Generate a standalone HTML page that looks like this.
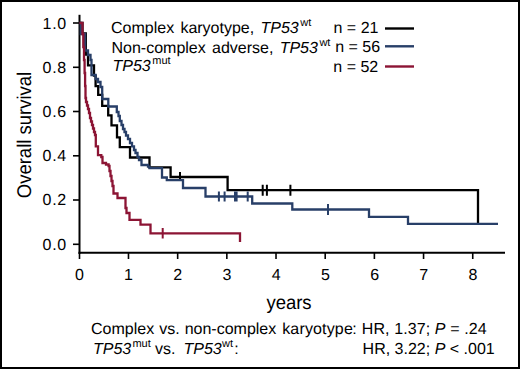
<!DOCTYPE html>
<html><head><meta charset="utf-8">
<style>
html,body{margin:0;padding:0;background:#fff;}
body{width:520px;height:369px;overflow:hidden;}
svg{display:block;}
text{font-family:"Liberation Sans",sans-serif;fill:#000;text-rendering:geometricPrecision;}
.it{font-style:italic;}
</style></head>
<body>
<svg width="520" height="369" viewBox="0 0 520 369">
<rect x="0" y="0" width="520" height="369" fill="#fff"/>
<rect x="1" y="1" width="518" height="367" fill="none" stroke="#000" stroke-width="2"/>

<!-- axes -->
<g stroke="#000" fill="none">
<line x1="79.5" y1="14.8" x2="79.5" y2="253.8" stroke-width="2"/>
<line x1="78.5" y1="252.8" x2="505" y2="252.8" stroke-width="2"/>
<g stroke-width="1.6">
<line x1="73" y1="23" x2="79.8" y2="23"/>
<line x1="73" y1="67.3" x2="79.8" y2="67.3"/>
<line x1="73" y1="111.5" x2="79.8" y2="111.5"/>
<line x1="73" y1="155.8" x2="79.8" y2="155.8"/>
<line x1="73" y1="200" x2="79.8" y2="200"/>
<line x1="73" y1="244.3" x2="79.8" y2="244.3"/>
<line x1="79.5" y1="252.8" x2="79.5" y2="259"/>
<line x1="128.48" y1="252.8" x2="128.48" y2="259"/>
<line x1="177.66" y1="252.8" x2="177.66" y2="259"/>
<line x1="226.84" y1="252.8" x2="226.84" y2="259"/>
<line x1="276.02" y1="252.8" x2="276.02" y2="259"/>
<line x1="325.2" y1="252.8" x2="325.2" y2="259"/>
<line x1="374.38" y1="252.8" x2="374.38" y2="259"/>
<line x1="423.56" y1="252.8" x2="423.56" y2="259"/>
<line x1="472.74" y1="252.8" x2="472.74" y2="259"/>
</g>
</g>

<!-- y tick labels -->
<g font-size="16" text-anchor="end">
<text x="66.2" y="28.6" textLength="23.6">1.0</text>
<text x="66.2" y="72.6" textLength="23.6">0.8</text>
<text x="66.2" y="116.8" textLength="23.6">0.6</text>
<text x="66.2" y="161.1" textLength="23.6">0.4</text>
<text x="66.2" y="205.3" textLength="23.6">0.2</text>
<text x="66.2" y="249.6" textLength="23.6">0.0</text>
</g>
<!-- x tick labels -->
<g font-size="16" text-anchor="middle">
<text x="79.5" y="280.4">0</text>
<text x="128.5" y="280.4">1</text>
<text x="177.8" y="280.4">2</text>
<text x="227" y="280.4">3</text>
<text x="276.2" y="280.4">4</text>
<text x="325.4" y="280.4">5</text>
<text x="374.6" y="280.4">6</text>
<text x="423.8" y="280.4">7</text>
<text x="473" y="280.4">8</text>
</g>

<!-- axis titles -->
<text transform="translate(289,309.3) scale(1,1.05)" font-size="18.5" text-anchor="middle">years</text>
<text transform="translate(30.7,135) rotate(-90) scale(1,1.07)" font-size="18.5" text-anchor="middle">Overall survival</text>

<!-- curves -->
<g fill="none" stroke-width="2.3">
<path stroke="#000" d="M79.5,23 H82.5 V33.5 H85.8 V54.5 H88 V65.3 H94 V75.7 H95.6 V86.2 H98.2 V94.8 H102.2 V105.8 H108.2 V115.4 H111.5 V125.3 H117 V137.4 H119.8 V147.2 H130 V157.5 H149.5 V167.4 H170.6 V177 H227.6 V190.1 H478 V223.5"/>
</g>
<g fill="none" stroke-width="2">
<path stroke="#000" d="M180,172 V180.5 M262.7,184.8 V195.8 M266.9,184.8 V195.8 M290.4,184.8 V195.8"/>
</g>
<g fill="none" stroke-width="2.3">
<path stroke="#283f68" d="M79.5,23 H80.8 V34 H85 V50.5 H88 V55 H90.5 V60 H91.5 V75 H95.6 V79 H98 V82 H100.5 V87 H102.2 V99 H108.3 V106.5 H116.8 V112 H118.5 V116 H119.8 V121 H121.5 V125 H123 V129 H124.5 V132 H126 V135.5 H128 V139 H130 V143 H132 V146.3 H134 V150 H135.5 V153 H137.5 V156.8 H139 V160 H141.5 V165 H148 V166.6 H149.5 V168.2 H162 V177.5 H166.8 V180.2 H183 V188 H205.5 V196.5 H252.2 V203.5 H292.3 V209.5 H369 V216.8 H408 V223.8 H498"/>
</g>
<g fill="none" stroke-width="2">
<path stroke="#283f68" d="M218.9,191.5 V201.5 M224.6,191.5 V201.5 M235,191.5 V201.5 M236.6,191.5 V201.5 M247.7,191.5 V201.5 M328,204 V215"/>
</g>
<g fill="none" stroke-width="2.3">
<path stroke="#8c1434" d="M79.5,23 H82.5 V34 H83.3 V47 H84 V60 H84.6 V73 H85.1 V86 H85.5 V98 H86 V102 H87 V105.5 H88 V109 H89 V113 H90 V118 H91 V121.5 H92 V125 H93 V128.5 H94 V132 H95 V135 H95.8 V146.3 H98 V155.2 H101.3 V157 H102.5 V163 H106 V164.5 H108.6 V166 H109.5 V171 H110.5 V176 H111.5 V181 H112.5 V186 H113.5 V193.5 H117.5 V198 H125.5 V208 H126.5 V213 H129.5 V219.8 H140.5 V224.7 H150.5 V233.4 H240 V242"/>
</g>
<g fill="none" stroke-width="2">
<path stroke="#8c1434" d="M162.7,228 V238.5"/>
</g>

<!-- legend -->
<g font-size="16" word-spacing="3">
<text x="111" y="33" word-spacing="1.8">Complex karyotype, <tspan class="it">TP53</tspan><tspan font-size="11" dx="1.5" dy="-6.8">wt</tspan></text>
<text x="111.5" y="52.5" word-spacing="1.8">Non-complex adverse, <tspan class="it">TP53</tspan><tspan font-size="11" dx="1.5" dy="-6.8">wt</tspan></text>
<text x="112.5" y="71" word-spacing="1.8"><tspan class="it">TP53</tspan><tspan font-size="11" dx="1.5" dy="-6.8">mut</tspan></text>
<text x="333.5" y="33" word-spacing="0">n = 21</text>
<text x="335.2" y="52.3" word-spacing="0">n = 56</text>
<text x="333.3" y="72.3" word-spacing="0">n = 52</text>
</g>
<g stroke-width="2.4">
<line x1="385" y1="28.5" x2="414" y2="28.5" stroke="#000"/>
<line x1="385" y1="46.3" x2="414" y2="46.3" stroke="#283f68"/>
<line x1="385" y1="66.5" x2="414" y2="66.5" stroke="#8c1434"/>
</g>

<!-- stats -->
<g font-size="16" word-spacing="1">
<text x="91" y="334" word-spacing="0.6">Complex vs. non-complex <tspan dx="0.9" letter-spacing="0.15">karyotype</tspan><tspan dx="-0.8">:</tspan></text>
<text x="361.8" y="334" word-spacing="0" letter-spacing="0.1">HR, 1.37; <tspan class="it">P</tspan> = .24</text>
<text y="353.8" word-spacing="0"><tspan x="93" class="it">TP53</tspan><tspan font-size="11" dx="1.2" dy="-6.8">mut</tspan><tspan x="155" dy="6.8">vs.</tspan><tspan x="183.5" class="it">TP53</tspan><tspan font-size="11" dx="0.3" dy="-6.8">wt</tspan><tspan x="234.2" dy="6.8">:</tspan></text>
<text x="362.6" y="354" word-spacing="0">HR, 3.22; <tspan class="it">P</tspan> &lt; .001</text>
</g>
</svg>
</body></html>
